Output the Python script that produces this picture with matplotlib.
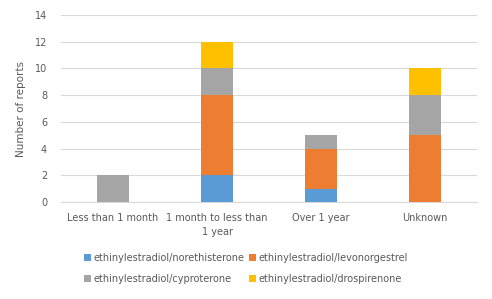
import matplotlib.pyplot as plt
import numpy as np

categories = ['Less than 1 month', '1 month to less than\n1 year', 'Over 1 year', 'Unknown']
series_names = ['ethinylestradiol/norethisterone', 'ethinylestradiol/levonorgestrel',
                'ethinylestradiol/cyproterone', 'ethinylestradiol/drospirenone']
norethisterone = [0, 2, 1, 0]
levonorgestrel = [0, 6, 3, 5]
cyproterone = [2, 2, 1, 3]
drospirenone = [0, 2, 0, 2]
colours = ['#5B9BD5', '#ED7D31', '#A5A5A5', '#FFC000']

txt = '#595959'
plt.rcParams['font.family'] = 'DejaVu Sans'

fig = plt.figure(figsize=(4.92, 2.99), dpi=100)
ax = fig.add_axes([0.124, 0.324, 0.846, 0.626])

x = np.arange(len(categories))
bottom = np.zeros(len(categories))
for vals, name, col in zip([norethisterone, levonorgestrel, cyproterone, drospirenone], series_names, colours):
    ax.bar(x, vals, width=0.31, bottom=bottom, color=col, label=name, zorder=3)
    bottom += np.array(vals)

ax.set_xlim(-0.5, 3.5)
ax.set_ylim(0, 14)
ax.set_yticks(range(0, 15, 2))
ax.grid(axis='y', color='#D9D9D9', linewidth=0.8, zorder=0)
for s in ['top', 'right', 'left']:
    ax.spines[s].set_visible(False)
ax.spines['bottom'].set_color('#D9D9D9')
ax.tick_params(length=0, colors=txt, labelsize=7)
ax.set_xticks(x)
ax.set_xticklabels(categories, fontsize=7, color=txt, linespacing=1.5)
ax.tick_params(axis='x', pad=8)
ax.tick_params(axis='y', pad=10)
ax.set_ylabel('Number of reports', fontsize=7.5, color=txt, labelpad=6)

handles, labels = ax.get_legend_handles_labels()
order = [0, 2, 1, 3]
fig.legend([handles[i] for i in order], [labels[i] for i in order], ncol=2,
           loc='center', bbox_to_anchor=(0.5, 0.103), frameon=False, fontsize=7,
           labelcolor=txt, handlelength=0.7, handleheight=0.7, handletextpad=0.3,
           columnspacing=0.4, labelspacing=1.1)

fig.savefig('out.png', dpi=100)
